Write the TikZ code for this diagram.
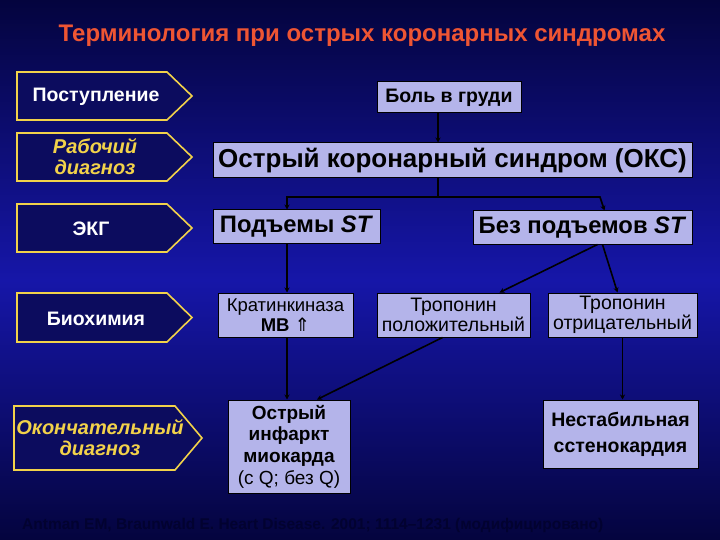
\documentclass[tikz,border=0pt]{standalone}
\usepackage{fontspec}
\setmainfont{Liberation Sans}
\newfontfamily\symfont{DejaVu Sans}
\usetikzlibrary{arrows.meta}
\definecolor{bgdark}{HTML}{04043E}
\definecolor{bgmid}{HTML}{1616A8}
\definecolor{navy}{HTML}{0C0C5E}
\definecolor{gold}{HTML}{F2D24A}
\definecolor{lav}{HTML}{B4B4EA}
\definecolor{titlered}{HTML}{EE5533}
\definecolor{citec}{HTML}{020230}
\begin{document}
\begin{tikzpicture}[x=1pt,y=-1pt,
  tag/.style={draw=gold,line width=1.6pt,fill=navy,line join=miter},
  tagtext/.style={text=white,font=\bfseries\fontsize{19.5}{22}\selectfont,align=center,inner sep=0pt},
  tagital/.style={text=gold,font=\bfseries\itshape\fontsize{20}{21}\selectfont,align=center,inner sep=0pt},
  box/.style={draw=black,line width=1pt,fill=lav,inner sep=0pt,align=center,font=\bfseries},
  conn/.style={draw=black,line width=1.6pt},
  arr/.style={conn,-{Stealth[length=5pt,width=5pt]}}
]
\fill[top color=bgdark,bottom color=bgmid] (0,0) rectangle (720,280);
\fill[top color=bgmid,bottom color=bgdark] (0,280) rectangle (720,540);
\useasboundingbox (0,0) rectangle (720,540);

% title
\node[text=titlered,font=\bfseries\fontsize{24}{26}\selectfont,inner sep=0pt] (title) at (362,35.5) {Терминология при острых коронарных синдромах};

% left tags
\draw[tag] (17,72) -- (167,72) -- (192,96) -- (167,120) -- (17,120) -- cycle;
\node[tagtext] (post) at (96,97) {Поступление};
\draw[tag] (17,133) -- (167,133) -- (192,157) -- (167,181) -- (17,181) -- cycle;
\node[tagital] (rab) at (95,157) {Рабочий\\диагноз};
\draw[tag] (17,204) -- (167,204) -- (192,228) -- (167,252) -- (17,252) -- cycle;
\node[tagtext] (ekg) at (91,229) {ЭКГ};
\draw[tag] (17,293) -- (167,293) -- (192,317.5) -- (167,342) -- (17,342) -- cycle;
\node[tagtext] (bio) at (96,319) {Биохимия};
\draw[tag] (14,406) -- (175,406) -- (202,438) -- (175,470) -- (14,470) -- cycle;
\node[tagital] (okon) at (100,438) {Окончательный\\диагноз};

% right boxes
\node[box,minimum width=144pt,minimum height=31pt,font=\bfseries\fontsize{19.5}{22}\selectfont] (pain) at (449,97.5) {Боль в груди};
\node[box,minimum width=479pt,minimum height=35pt,font=\bfseries\fontsize{26}{28}\selectfont] (oks) at (452.5,160.5) {Острый коронарный синдром (ОКС)};
\node[box,minimum width=167pt,minimum height=33pt,font=\bfseries\fontsize{23.8}{26}\selectfont] (podn) at (296.5,226.5) {Подъемы \textit{ST}};
\node[box,minimum width=219pt,minimum height=33pt,font=\bfseries\fontsize{23.8}{26}\selectfont] (bez) at (582.5,227.5) {Без подъемов \textit{ST}};
\node[box,minimum width=135pt,minimum height=44pt,font=\mdseries\fontsize{18.5}{20.5}\selectfont] (krat) at (285.5,315) {Кратинкиназа\\\textbf{МВ} {\symfont ⇑}};
\node[box,minimum width=153pt,minimum height=44pt,font=\mdseries\fontsize{19.5}{20}\selectfont] (tropp) at (453.5,315) {Тропонин\\положительный};
\node[box,minimum width=149pt,minimum height=44pt,font=\mdseries\fontsize{19.5}{20}\selectfont] (tropm) at (622.5,315) {Тропонин\\отрицательный};
\node[box,minimum width=122pt,minimum height=93pt,font=\bfseries\fontsize{19}{21.7}\selectfont] (oim) at (289,446.5) {Острый\\инфаркт\\миокарда\\\mdseries(с Q; без Q)};
\node[box,minimum width=155pt,minimum height=68pt,font=\bfseries\fontsize{19.5}{26}\selectfont] (nest) at (620.5,434) {Нестабильная\\сстенокардия};

% connectors
\coordinate (j1) at (438,197);
\coordinate (jl) at (287,197);
\coordinate (jr) at (600,197);
\draw[arr] (pain.south -| j1) -- (oks.north -| j1);
\draw[conn] (oks.south -| j1) -- (j1);
\draw[arr] (j1) -- (jl) -- (jl |- podn.north);
\draw[arr] (j1) -- (jr) -- ([xshift=22pt]bez.north);
\draw[arr] (jl |- podn.south) -- (jl |- krat.north);
\draw[arr] (jl |- krat.south) -- (jl |- oim.north);
\draw[arr] ([xshift=15pt]bez.south) -- ([xshift=46pt]tropp.north);
\draw[arr] ([xshift=20pt]bez.south) -- ([xshift=-5pt]tropm.north);
\draw[arr] ([xshift=-11pt]tropp.south) -- ([xshift=28pt]oim.north);
\draw[arr] (tropm.south) -- (tropm.south |- nest.north);

% citation
\node[text=citec,font=\bfseries\fontsize{15.5}{17}\selectfont,anchor=west,inner sep=0pt] (cite) at (22,525) {Antman EM, Braunwald E. Heart Disease. 2001; 1114–1231 (модифицировано)};
\end{tikzpicture}
\end{document}
